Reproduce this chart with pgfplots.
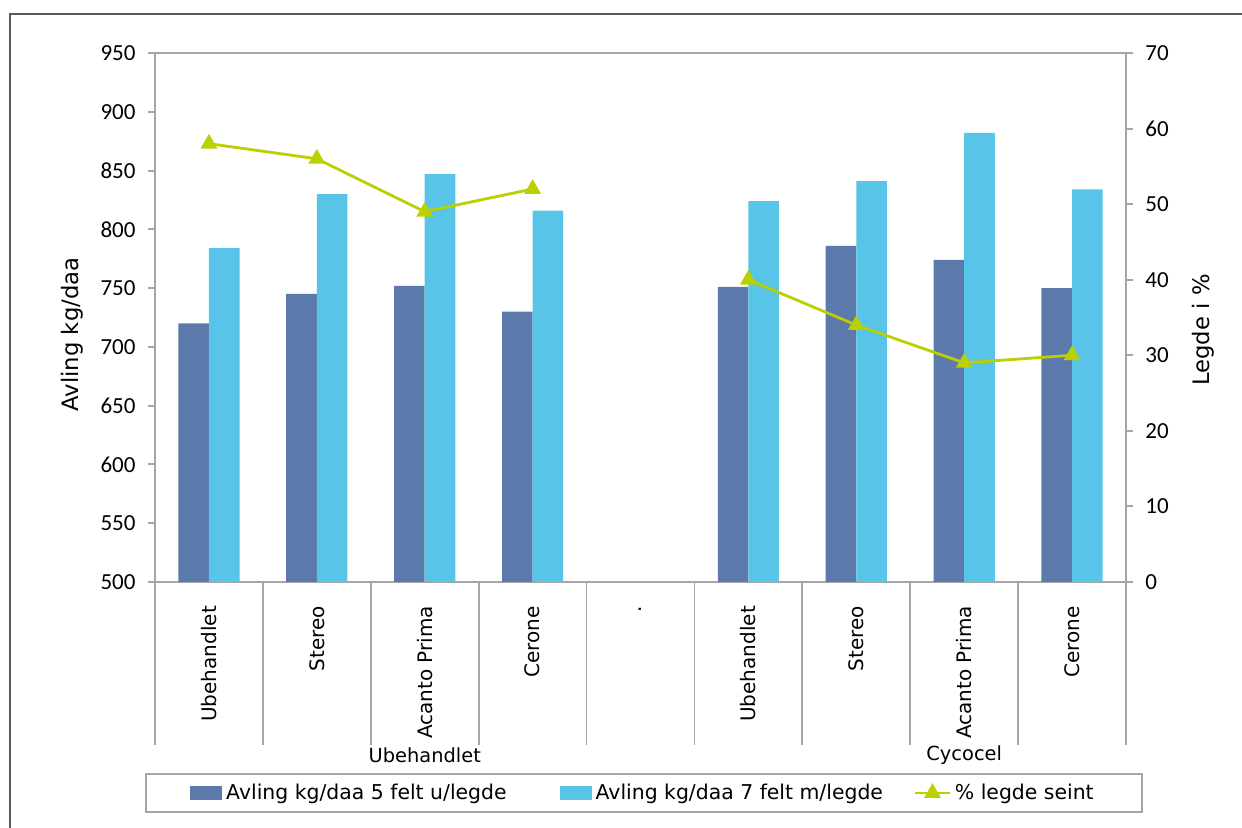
\documentclass[border=0pt]{standalone}
\usepackage{pgfplots}
\pgfplotsset{compat=1.18}
\usepackage{fontspec}
\setmainfont{DejaVu Sans}
\newfontfamily\numfont{Carlito}

\definecolor{darkbar}{RGB}{91,121,170}
\definecolor{lightbar}{RGB}{88,196,232}
\definecolor{lodgeline}{RGB}{188,207,0}
\definecolor{axisgray}{RGB}{166,166,166}
\definecolor{framegray}{RGB}{90,90,90}

\pgfplotsset{
  chartbase/.style={
    scale only axis, width=485.5pt, height=264.5pt,
    at={(77.5pt,123pt)}, anchor=south west,
    xmin=-0.5, xmax=8.5,
    axis line style={axisgray, line width=1pt},
    tick style={axisgray, line width=1pt},
    tick align=outside, major tick length=3.5pt,
    /pgf/number format/assume math mode=true,
    yticklabel style={font=\numfont\fontsize{11.5}{13}\selectfont, text=black},
    yticklabel shift=2.7pt,
  }
}

\begin{document}
\begin{tikzpicture}
\useasboundingbox (0,0) rectangle (621pt,414pt);
\draw[framegray, line width=0.8pt] (5pt,-2pt) -- (5pt,407pt) -- (625pt,407pt);

% yield bars (left axis)
\begin{axis}[chartbase,
  ymin=500, ymax=950, ytick={500,550,...,950},
  ytick pos=left, xtick pos=bottom,
  xtick={0,...,8},
  xticklabels={Ubehandlet,Stereo,Acanto Prima,Cerone,.,Ubehandlet,Stereo,Acanto Prima,Cerone},
  xtick style={draw=none},
  xticklabel style={rotate=90, anchor=east, font=\fontsize{10}{12}\selectfont},
  xticklabel shift=5pt,
  extra x ticks={-0.5,0.5,...,8.5},
  extra x tick labels={},
  extra x tick style={major tick length=81.5pt, xtick style={draw=axisgray, line width=0.9pt}},
  ybar=0pt, bar width=15.3pt,
]
\addplot[fill=darkbar, draw=none] coordinates {(0,720) (1,745) (2,752) (3,730) (5,751) (6,786) (7,774) (8,750)};
\addplot[fill=lightbar, draw=none] coordinates {(0,784) (1,830) (2,847) (3,816) (5,824) (6,841) (7,882) (8,834)};
\end{axis}

% lodging share (right axis)
\begin{axis}[chartbase,
  ymin=0, ymax=70, ytick={0,10,...,70},
  axis y line*=right, axis x line=none,
  unbounded coords=jump,
  legend columns=3,
  legend style={at={(0.5036,-0.3989)}, anchor=center, draw=axisgray, line width=1pt,
    font=\fontsize{10.2}{12}\selectfont, inner xsep=22pt, inner ysep=3pt,
    /tikz/column 2/.style={column sep=24.5pt},
    /tikz/column 4/.style={column sep=13.5pt}},
]
\addlegendimage{legend image code/.code={\fill[darkbar] (0pt,-3pt) rectangle (15pt,3pt);}}
\addlegendentry{Avling kg/daa 5 felt u/legde}
\addlegendimage{legend image code/.code={\fill[lightbar] (0pt,-3pt) rectangle (15pt,3pt);}}
\addlegendentry{Avling kg/daa 7 felt m/legde}
\addplot[lodgeline, line width=1.4pt, mark=triangle*, mark size=3.5pt, mark options={solid}]
  coordinates {(0,58) (1,56) (2,49) (3,52) (4,nan) (5,40) (6,34) (7,29) (8,30)};
\addlegendentry{\% legde seint}
\end{axis}

\node[rotate=90, font=\fontsize{11.35}{13}\selectfont] at (36pt,246.75pt) {Avling kg/daa};
\node[rotate=90, font=\fontsize{11.35}{13}\selectfont] at (601.5pt,249pt) {Legde i \%};
\node[font=\fontsize{9.7}{12}\selectfont] at (212.4pt,36.5pt) {Ubehandlet};
\node[font=\fontsize{9.7}{12}\selectfont] at (482.1pt,36.5pt) {Cycocel};
\end{tikzpicture}
\end{document}
